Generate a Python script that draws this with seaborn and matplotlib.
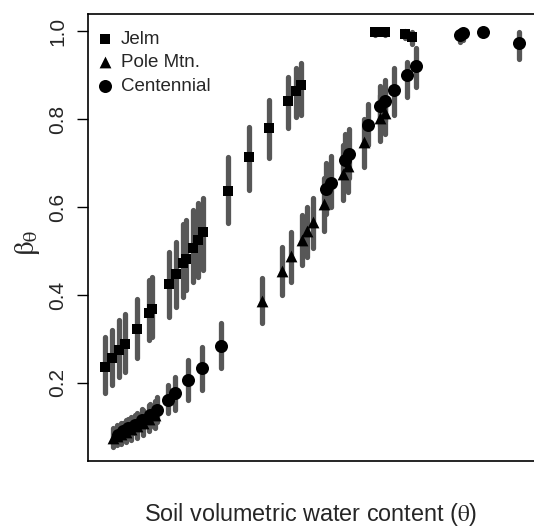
import matplotlib
matplotlib.use("Agg")
import matplotlib.pyplot as plt
import seaborn as sns

# --- DATA (theta in arbitrary units, no x ticks shown) ---
sites = ["Jelm", "Pole Mtn.", "Centennial"]

jelm_theta = [0.017, 0.024, 0.031, 0.037, 0.049, 0.061, 0.064, 0.081, 0.088, 0.095, 0.098, 0.105,
              0.110, 0.115, 0.140, 0.161, 0.181, 0.200, 0.208, 0.213, 0.287, 0.297, 0.317, 0.324]
jelm_beta = [0.237, 0.257, 0.276, 0.289, 0.323, 0.359, 0.368, 0.424, 0.447, 0.472, 0.482, 0.507,
             0.525, 0.543, 0.637, 0.714, 0.780, 0.841, 0.864, 0.877, 0.997, 0.998, 0.993, 0.987]
jelm_lo = [0.177, 0.195, 0.214, 0.226, 0.256, 0.298, 0.305, 0.351, 0.373, 0.396, 0.411, 0.430,
           0.442, 0.457, 0.564, 0.639, 0.711, 0.779, 0.805, 0.809, 0.990, 0.992, 0.985, 0.970]
jelm_hi = [0.305, 0.320, 0.343, 0.357, 0.392, 0.434, 0.442, 0.498, 0.521, 0.561, 0.570, 0.593,
           0.609, 0.620, 0.714, 0.782, 0.843, 0.896, 0.916, 0.927, 1.000, 1.000, 0.999, 0.998]

pole_theta = [0.025, 0.029, 0.033, 0.038, 0.043, 0.049, 0.055, 0.061, 0.067,
              0.174, 0.194, 0.203, 0.214, 0.219, 0.225, 0.236, 0.255, 0.260, 0.276, 0.292, 0.297]
pole_beta = [0.075, 0.080, 0.084, 0.089, 0.095, 0.102, 0.109, 0.118, 0.127,
             0.386, 0.455, 0.489, 0.526, 0.545, 0.565, 0.606, 0.675, 0.694, 0.747, 0.802, 0.813]
pole_lo = [0.055, 0.058, 0.062, 0.066, 0.070, 0.076, 0.082, 0.090, 0.098,
           0.336, 0.400, 0.430, 0.468, 0.487, 0.507, 0.545, 0.615, 0.635, 0.690, 0.750, 0.765]
pole_hi = [0.098, 0.104, 0.110, 0.116, 0.123, 0.131, 0.139, 0.149, 0.158,
           0.439, 0.510, 0.544, 0.582, 0.601, 0.620, 0.665, 0.740, 0.760, 0.800, 0.855, 0.865]

cent_theta = [0.030, 0.035, 0.040, 0.047, 0.054, 0.062, 0.069, 0.080, 0.087, 0.100, 0.114, 0.133,
              0.238, 0.243, 0.257, 0.261, 0.280, 0.292, 0.297, 0.306, 0.319, 0.328, 0.372, 0.375,
              0.395, 0.431]
cent_beta = [0.082, 0.091, 0.098, 0.105, 0.116, 0.127, 0.139, 0.161, 0.177, 0.207, 0.234, 0.284,
             0.640, 0.654, 0.707, 0.720, 0.786, 0.829, 0.842, 0.867, 0.900, 0.921, 0.991, 0.995,
             0.998, 0.973]
cent_lo = [0.066, 0.073, 0.080, 0.086, 0.094, 0.101, 0.112, 0.132, 0.139, 0.161, 0.184, 0.234,
           0.585, 0.600, 0.655, 0.665, 0.740, 0.785, 0.795, 0.809, 0.851, 0.873, 0.975, 0.980,
           0.990, 0.936]
cent_hi = [0.101, 0.110, 0.118, 0.127, 0.140, 0.153, 0.168, 0.196, 0.214, 0.252, 0.282, 0.336,
           0.700, 0.715, 0.765, 0.778, 0.835, 0.875, 0.888, 0.916, 0.930, 0.961, 1.000, 1.000,
           1.000, 0.998]

y_ticks = [0.2, 0.4, 0.6, 0.8, 1.0]
y_ticklabels = ["0.2", "0.4", "0.6", "0.8", "1.0"]

# --- STYLE ---
sns.set_style("white")
plt.rcParams['font.family'] = ['Liberation Sans', 'DejaVu Sans']
plt.rcParams['mathtext.fontset'] = 'stix'

BAR_COL = '#575757'

fig = plt.figure(figsize=(5.34, 5.27), dpi=100)
ax = fig.add_axes([88 / 534, 66 / 527, 448 / 534, 447 / 527])

series = [
    (jelm_theta, jelm_beta, jelm_lo, jelm_hi, 's', 46),
    (pole_theta, pole_beta, pole_lo, pole_hi, '^', 72),
    (cent_theta, cent_beta, cent_lo, cent_hi, 'o', 88),
]

# error bars first, then the points on top
for th, b, lo, hi, mk, sz in series:
    ax.vlines(th, lo, hi, color=BAR_COL, lw=3.8, capstyle='round', zorder=1)

for name, (th, b, lo, hi, mk, sz) in zip(sites, series):
    sns.scatterplot(x=th, y=b, marker=mk, s=sz, color='black', linewidth=0,
                    label=name, ax=ax, zorder=3)

ax.set_xlim(0, 0.448)
ax.set_ylim(0.0227, 1.0386)
ax.set_xticks([])
ax.set_yticks(y_ticks)
ax.set_yticklabels(y_ticklabels, rotation=90, va='center', fontsize=15)
ax.tick_params(axis='y', direction='out', length=8, width=1, pad=7, left=True, color='black')

for sp in ax.spines.values():
    sp.set_color('black')
    sp.set_linewidth(1.2)

fig.text(27 / 534, 1 - 243 / 527, r'$\mathrm{\beta_{\theta}}$', rotation=90,
         ha='center', va='center', fontsize=21)
fig.text(311 / 534, 1 - 515 / 527, r'Soil volumetric water content ($\mathrm{\theta}$)',
         ha='center', va='center', fontsize=16.8)

ax.legend(loc='upper left', bbox_to_anchor=(0.021, 0.963), frameon=False, fontsize=13.5,
          handletextpad=0.45, labelspacing=0.34, borderaxespad=0, borderpad=0,
          handlelength=0.8, markerscale=1.0)

fig.savefig('out.png', dpi=100)
